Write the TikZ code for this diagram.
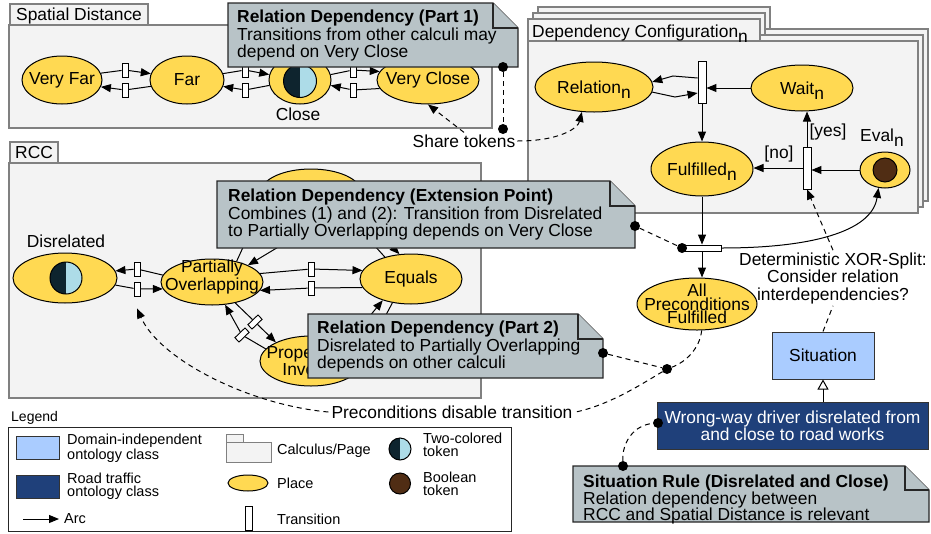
\documentclass[tikz,border=0pt]{standalone}
\usepackage{fontspec}
\setmainfont{Liberation Sans}
\usetikzlibrary{shapes.geometric, arrows.meta, calc}

\definecolor{placeY}{RGB}{255,217,82}
\definecolor{noteC}{RGB}{184,195,199}
\definecolor{frameF}{RGB}{243,243,243}
\definecolor{frameD}{RGB}{128,128,128}
\definecolor{domBlue}{RGB}{170,204,255}
\definecolor{roadBlue}{RGB}{31,64,122}
\definecolor{tokDark}{RGB}{14,36,46}
\definecolor{tokLight}{RGB}{173,220,232}
\definecolor{boolBrown}{RGB}{80,45,20}

% lowered index letter that does not change the line box
\newcommand{\lowsub}[1]{\raisebox{-0.3em}[0pt][0pt]{#1}}

\tikzset{
  place/.style={ellipse, draw=black, line width=1pt, fill=placeY, inner sep=0pt},
  trans/.style={rectangle, draw=black, line width=0.9pt, fill=white, inner sep=0pt,
                minimum width=6pt, minimum height=14pt},
  arc/.style={line width=1pt, -{Triangle[length=10pt,width=8pt]}},
  dep/.style={line width=1pt, dash pattern=on 5pt off 4pt},
  deparr/.style={dep, -{Triangle[length=10pt,width=8pt]}},
  dotnode/.style={circle, fill=black, inner sep=0pt, minimum size=10pt},
  framebox/.style={draw=frameD, fill=frameF, line width=1.3pt},
  notebox/.style={draw=black!85, fill=noteC, line width=1.2pt, line join=miter},
  notetext/.style={anchor=west, align=left, inner sep=0pt},
  twotok/.style={circle, draw=black, line width=1pt, inner sep=0pt, minimum size=#1,
                 fill=tokLight, path picture={\fill[tokDark] (path picture bounding box.north west)
                 rectangle (path picture bounding box.south);}},
  booltok/.style={circle, draw=black, line width=1pt, inner sep=0pt, minimum size=#1, fill=boolBrown},
  tablabel/.style={anchor=base west, inner sep=0pt},
  legendtext/.style={font=\fontsize{14.5}{12.5}\selectfont, align=left, anchor=west, inner sep=0pt},
  classbox/.style={draw=black!80, line width=1pt, inner sep=0pt},
  inherit/.style={line width=1pt, -{Triangle[open, length=10pt, width=11pt]}},
}

\begin{document}
\begin{tikzpicture}[x=1pt, y=-1pt, font=\fontsize{17.4}{17.5}\selectfont]
\useasboundingbox (0,0) rectangle (931,533);

%%%%%%%% Spatial Distance calculus
\draw[framebox] (10,4) rectangle (148,25);
\draw[framebox] (9,25) rectangle (492,128);
\node[tablabel] (sdtab) at (16,20.7) {Spatial Distance};

\node[place, minimum width=80pt, minimum height=48pt, label={center:Very Far}] (vf) at (62,80) {};
\node[place, minimum width=74pt, minimum height=48pt, label={center:Far}] (far) at (187,80) {};
\node[place, minimum width=62pt, minimum height=48pt] (close) at (300,80) {};
\node[twotok=33pt] (closetok) at (300,81) {};
\node[anchor=base, inner sep=0pt] (closelbl) at (298,120.7) {Close};
\node[place, minimum width=102pt, minimum height=48pt, label={center:Very Close}] (vclose) at (428,80) {};

\node[trans] (sa1) at (125,70) {};
\node[trans] (sa2) at (125,90) {};
\node[trans] (sb1) at (245,70) {};
\node[trans] (sb2) at (245,90) {};
\node[trans] (sc1) at (353,70) {};
\node[trans] (sc2) at (353,90) {};

\draw[arc] (vf.10) -- (sa1) -- (far.170);
\draw[arc] (far.190) -- (sa2) -- (vf.350);
\draw[arc] (far.10) -- (sb1) -- (close.170);
\draw[arc] (close.190) -- (sb2) -- (far.350);
\draw[arc] (close.10) -- (sc1) -- (vclose.170);
\draw[arc] (vclose.190) -- (sc2) -- (close.350);

%%%%%%%% RCC calculus
\draw[framebox] (10,142) rectangle (58,163);
\draw[framebox] (9,163) rectangle (481,398);
\node[tablabel] (rcctab) at (15,158.3) {RCC};

\node[place, minimum width=104pt, minimum height=50pt] (dis) at (65,278) {};
\node[twotok=32pt] (distok) at (66,278) {};
\node[anchor=base, inner sep=0pt] (dislbl) at (66,247.3) {Disrelated};
\node[place, minimum width=102pt, minimum height=46pt,
      label={[align=center, yshift=5pt, font=\fontsize{17.4}{16}\selectfont]center:Partially\\Overlapping}] (po) at (212,282) {};
\node[place, minimum width=102pt, minimum height=50pt, label={center:Equals}] (eq) at (411,279) {};
\node[place, minimum width=100pt, minimum height=46pt] (ppart) at (311,192) {};
\node[place, minimum width=102pt, minimum height=50pt,
      label={[align=center, font=\fontsize{17.4}{13}\selectfont]center:Proper Part\\Inverse}] (ppi) at (311,361) {};

\node[trans] (dp1) at (137,269) {};
\node[trans] (dp2) at (137,289) {};
\node[trans] (pe1) at (311,269) {};
\node[trans] (pe2) at (311,288) {};
\node[trans, rotate=-46] (pp1) at (255,322) {};
\node[trans, rotate=-46] (pp2) at (242,335) {};
\node[trans] (pt1) at (250,232) {};
\node[trans] (pt2) at (290,240) {};
\node[trans] (et1) at (365,235) {};
\node[trans] (et2) at (378,232) {};
\node[trans] (ep1) at (378,330) {};
\node[trans] (ep2) at (360,328) {};

\draw[arc] (po.172) -- (dp1) -- (dis.8);
\draw[arc] (dis.-8) -- (dp2) -- (po.188);
\draw[arc] (po.10) -- (pe1) -- (eq.170);
\draw[arc] (eq.190) -- (pe2) -- (po.350);
\draw[arc] (po.-42) -- (pp1) -- (ppi.152);
\draw[arc] (ppi.165) -- (pp2) -- (po.-60);
\draw[arc] (po.40) -- (pt1) -- (ppart.-130);
\draw[arc] (ppart.-110) -- (pt2) -- (po.25);
\draw[arc] (eq.140) -- (et1) -- (ppart.-40);
\draw[arc] (ppart.-20) -- (et2) -- (eq.115);
\draw[arc] (eq.232) -- (ep1) -- (ppi.30);
\draw[arc] (ppi.50) -- (ep2) -- (eq.217);

%%%%%%%% Dependency configuration pages
\foreach \k in {2,1} {
  \draw[framebox] ({528+5*\k},{19-6*\k}) rectangle ({760+5*\k},{41-6*\k});
  \draw[framebox] ({528+5*\k},{41-6*\k}) rectangle ({918+5*\k},{213-6*\k});
}
\draw[framebox] (528,19) rectangle (760,41);
\draw[framebox] (528,41) rectangle (918,213);
\node[tablabel] (dctab) at (532,37) {Dependency Configuration\lowsub{n}};

\node[place, minimum width=118pt, minimum height=50pt, label={center:Relation\lowsub{n}}] (rel) at (594,87) {};
\node[place, minimum width=102pt, minimum height=46pt, label={center:Wait\lowsub{n}}] (wait) at (802,88) {};
\node[place, minimum width=102pt, minimum height=54pt, label={center:Fulfilled\lowsub{n}}] (ful) at (702,169) {};
\node[place, minimum width=50pt, minimum height=36pt] (eval) at (885,170) {};
\node[booltok=24pt] (evaltok) at (885,170) {};
\node[anchor=base, inner sep=0pt] (evallbl) at (882,141.7) {Eval\lowsub{n}};

\node[trans, minimum width=8pt, minimum height=42pt] (t1) at (702,82) {};
\node[trans, minimum width=8pt, minimum height=42pt] (t2) at (807,168) {};
\node[trans, minimum width=39pt, minimum height=6pt] (t3) at (702,248) {};

\draw[arc] (wait.west) -- (wait.west -| t1.east);
\draw[arc] ([yshift=4pt]t1.west) -- (673,76) -- (rel.5);
\draw[arc] (rel.-5) -- (675,97) -- ([yshift=-11pt]t1.west);
\draw[arc] (t1.south) -- (ful.north);
\draw[arc] (eval.west) -- (eval.west -| t2.east);
\draw[arc] (t2.west) -- (t2.west -| ful.east);
\draw[arc] (t2.north) -- (t2.north |- wait.south);
\node[anchor=base, inner sep=0pt] (nolbl) at (779,158) {[no]};
\node[anchor=base, inner sep=0pt] (yeslbl) at (828,136) {[yes]};

\node[place, minimum width=120pt, minimum height=52pt,
      label={[align=center, font=\fontsize{17.4}{13.5}\selectfont]center:All\\Preconditions\\Fulfilled}] (apf) at (697,304) {};
\draw[arc] (ful.south) -- (t3.north);
\draw[arc] (t3.south) -- (t3.south |- apf.north);
\draw[arc] (t3.east) .. controls (810,248) and (872,232) .. (eval.250);

%%%%%%%% Relation dependency notes
\draw[notebox] (228,3) -- (493,3) -- (518,28) -- (518,67) -- (228,67) -- cycle;
\draw[notebox] (493,3) -- (493,28) -- (518,28);
\node[notetext] (n1) at (237,35.5) {\textbf{Relation Dependency (Part 1)}\\Transitions from other calculi may\\depend on Very Close};

\draw[notebox] (217,181) -- (610,181) -- (635,206) -- (635,248) -- (217,248) -- cycle;
\draw[notebox] (610,181) -- (610,206) -- (635,206);
\node[notetext] (next) at (228,214.5) {\textbf{Relation Dependency (Extension Point)}\\Combines (1) and (2): Transition from Disrelated\\to Partially Overlapping depends on Very Close};

\draw[notebox] (308,314) -- (578,314) -- (603,339) -- (603,378) -- (308,378) -- cycle;
\draw[notebox] (578,314) -- (578,339) -- (603,339);
\node[notetext] (n2) at (317,346.5) {\textbf{Relation Dependency (Part 2)}\\Disrelated to Partially Overlapping\\depends on other calculi};

%%%%%%%% Situation classes and rule
\node[classbox, fill=domBlue, minimum width=102pt, minimum height=47pt] (sit) at (823,355.5) {Situation};
\node[classbox, fill=roadBlue, text=white, align=center, minimum width=271pt, minimum height=47pt,
      font=\fontsize{17.4}{17}\selectfont] (ww) at (792.5,425.5) {Wrong-way driver disrelated from\\and close to road works};
\draw[inherit] (ww.north -| sit.south) -- (sit.south);

\draw[notebox] (573,466) -- (905,466) -- (929,490) -- (929,522) -- (573,522) -- cycle;
\draw[notebox] (905,466) -- (905,490) -- (929,490);
\node[notetext, font=\fontsize{17.4}{16.5}\selectfont] (nsr) at (583,499.5) {\textbf{Situation Rule (Disrelated and Close)}\\Relation dependency between\\RCC and Spatial Distance is relevant};

%%%%%%%% Text labels on dependency links
\node[inner sep=2pt] (share) at (464,141) {Share tokens};
\node[inner sep=3pt] (plbl) at (452,412) {Preconditions disable transition};
\node[align=center, inner sep=2pt] (xor) at (833,278) {Deterministic XOR-Split:\\Consider relation\\interdependencies?};

%%%%%%%% Attachment dots and dashed dependency links
\node[dotnode] (n1dot) at (503,67) {};
\node[dotnode] (sdot) at (503,129) {};
\node[dotnode] (edot) at (635,226) {};
\node[dotnode] (t3dot) at (t3.west) {};
\node[dotnode] (p2dot) at (603,353) {};
\node[dotnode] (pdot) at (667,369) {};
\node[dotnode] (srdot) at (623,466) {};
\node[dotnode] (wwdot) at (658,423) {};

\draw[dep] (n1dot) -- (sdot);
\draw[dep] (edot) -- (t3dot);
\draw[dep] (p2dot) -- (pdot);
\draw[dep] (apf.-80) .. controls (700,348) and (686,362) .. (pdot) .. controls (645,382) and (610,405) .. (plbl.east);
\draw[deparr] (plbl.west) .. controls (250,405) and (160,360) .. ([yshift=-12pt]dp2.south);
\draw[deparr] (share.north) -- (vclose.south);
\draw[deparr] (share.east) .. controls (560,141) and (578,128) .. (rel.244);
\draw[dep] (sit.north) -- (xor.south);
\draw[deparr] (xor.north) -- (t2.south);
\draw[dep] (srdot) .. controls (622,442) and (634,425) .. (wwdot);

%%%%%%%% Legend
\node[tablabel, font=\fontsize{14}{14}\selectfont] (legendlbl) at (11,421) {Legend};
\draw[line width=1pt, draw=black!85, fill=white] (8,427) rectangle (511,531);
\node[classbox, fill=domBlue, minimum width=43pt, minimum height=23pt] (lgdom) at (37.5,447.5) {};
\node[legendtext] (lgdomt) at (67,448) {Domain-independent\\ontology class};
\node[classbox, fill=roadBlue, minimum width=43pt, minimum height=23pt] (lgroad) at (37.5,486.5) {};
\node[legendtext] (lgroadt) at (67,486) {Road traffic\\ontology class};
\coordinate (lgarcs) at (23,519);
\node[legendtext] (lgarct) at (64,519) {Arc};
\draw[arc, shorten >=5pt] (lgarcs) -- (lgarct.west);

\draw[framebox, line width=1pt] (226,434) rectangle (243,442);
\draw[framebox, line width=1pt] (226,442) rectangle (271,462);
\node[legendtext] (lgcalc) at (277,451) {Calculus/Page};
\node[place, minimum width=40pt, minimum height=16pt] (lgplace) at (248,483) {};
\node[legendtext] (lgplacet) at (277,483) {Place};
\node[trans, minimum width=7pt, minimum height=24pt] (lgtrans) at (249,518) {};
\node[legendtext] (lgtranst) at (277,519) {Transition};

\node[twotok=22pt] (lgtwo) at (400,449) {};
\node[legendtext] (lgtwot) at (423,445) {Two-colored\\token};
\node[booltok=21pt] (lgbool) at (400,483.5) {};
\node[legendtext] (lgboolt) at (423,484) {Boolean\\token};
\end{tikzpicture}
\end{document}
